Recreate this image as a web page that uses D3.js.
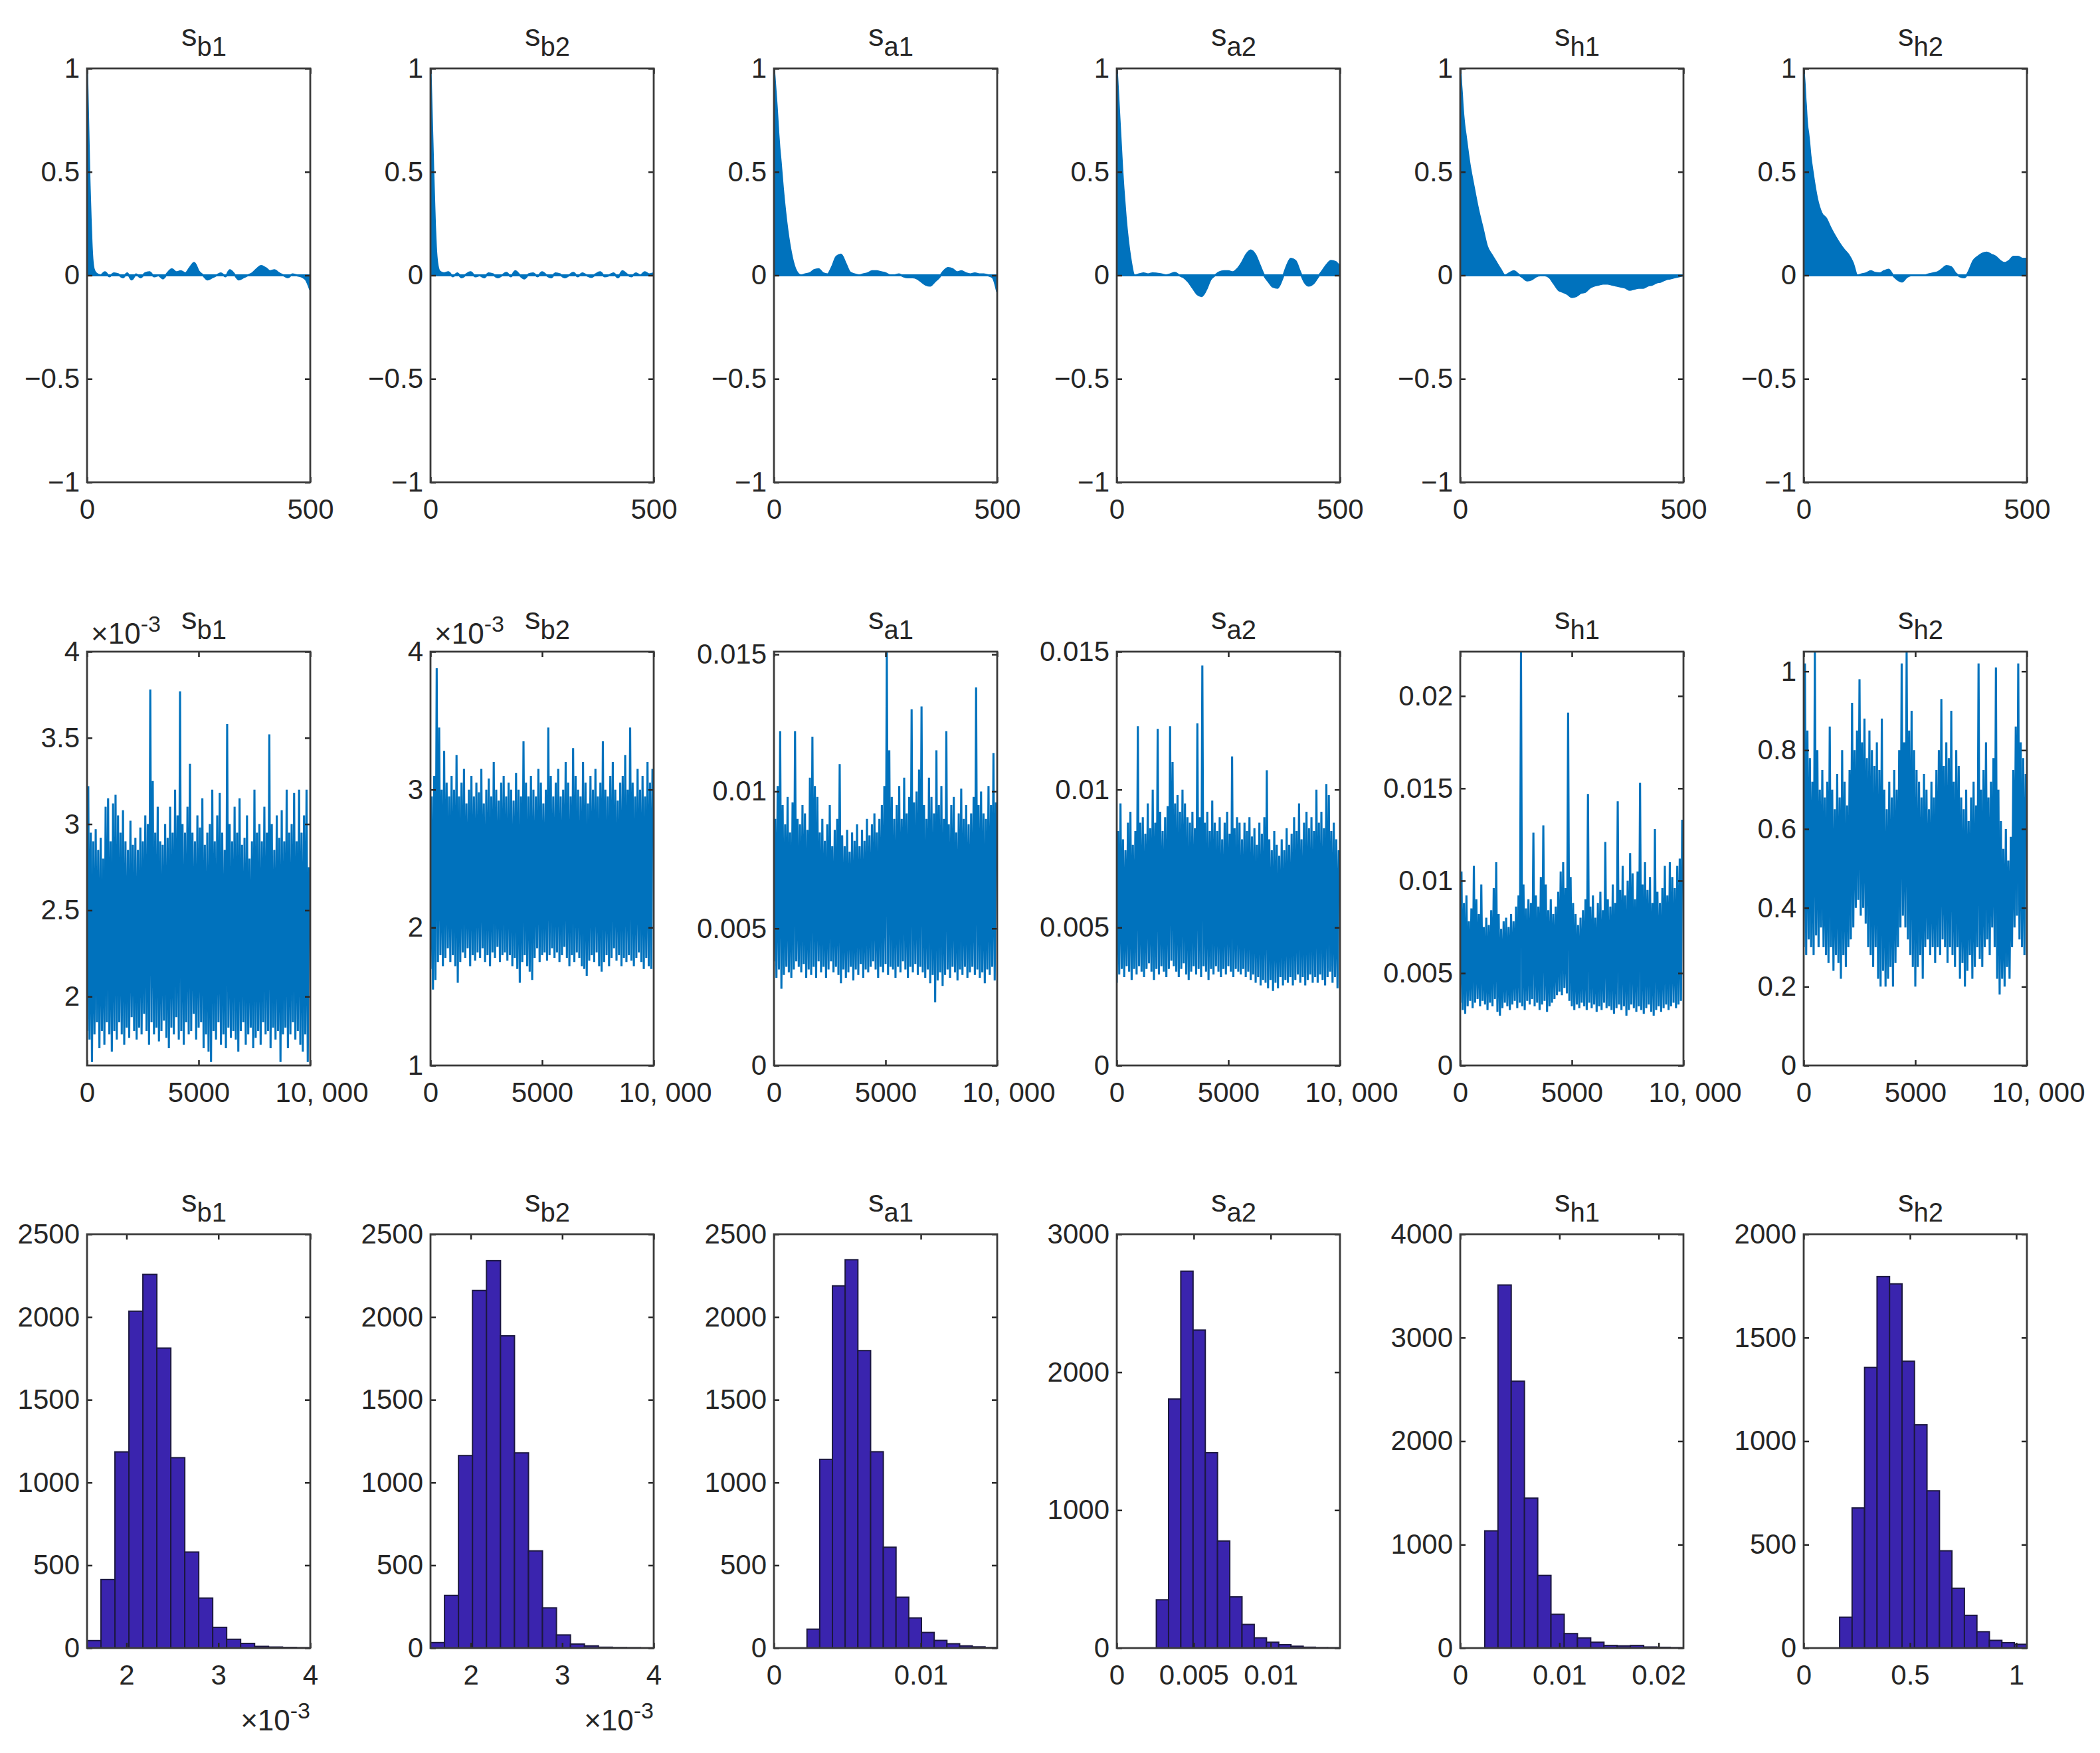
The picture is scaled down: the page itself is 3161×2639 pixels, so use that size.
<!DOCTYPE html>
<html><head><meta charset="utf-8">
<script src="https://cdn.jsdelivr.net/npm/d3@7"></script>
<style>
body{margin:0;background:#fff}
svg{display:block}
text{font-family:"Liberation Sans",Arial,sans-serif;fill:#262626}
</style>
</head><body>
<svg id="c" width="3161" height="2639"></svg>
<script>
// ---------------- DATA ----------------
const titleMain = ["s","s","s","s","s","s"];
const titleSub  = ["b1","b2","a1","a2","h1","h2"];

// Row 1: autocorrelation vs lag
const acfLags = [0,1,2,3,4,5,6,8,10,12,15,20,30,40,50,60,70,80,90,100,110,120,130,140,150,160,170,180,190,200,210,220,230,240,250,260,270,280,290,300,310,320,330,340,350,360,370,380,390,400,410,420,430,440,450,460,470,480,490,500];
const acf_sb1 = [1,0.9,0.8,0.7,0.6,0.5,0.42,0.28,0.16,0.08,0.03,0.01, 0.0,0.015,-0.005,0.01,0.005,-0.01,0.01,-0.02,0.005,-0.01,0.01,0.015,-0.005,0.0,-0.015,0.01,0.03,0.015,0.02,0.01,0.035,0.06,0.02,0.0,-0.02,-0.01,0.0,0.01,-0.005,0.025,0.005,-0.02,-0.01,0.0,0.01,0.03,0.045,0.035,0.02,0.025,0.01,0.0,-0.01,0.005,0.0,-0.005,-0.02,-0.07];
const acf_sb2 = [1,0.92,0.84,0.76,0.68,0.6,0.52,0.38,0.24,0.14,0.06,0.02, 0.01,0.015,-0.005,0.01,-0.01,0.005,0.015,-0.005,0.0,-0.01,0.01,0.005,-0.01,0.0,0.012,-0.005,0.02,0.0,-0.015,0.005,0.01,-0.005,0.015,0.0,-0.01,0.01,0.005,-0.01,0.0,0.012,-0.005,0.01,0.0,-0.008,0.005,0.015,-0.005,0.0,0.01,-0.01,0.02,0.005,-0.005,0.01,0.0,0.015,0.005,0.01];
const acf_sa1 = [1,0.97,0.94,0.91,0.88,0.85,0.82,0.75,0.68,0.62,0.55,0.42, 0.22,0.09,0.02,0.0,0.005,0.01,0.025,0.03,0.01,0.005,0.04,0.09,0.1,0.06,0.015,0.005,0.0,0.005,0.01,0.02,0.02,0.015,0.01,0.0,0.0,0.005,-0.005,-0.01,-0.01,-0.015,-0.03,-0.045,-0.05,-0.03,-0.01,0.02,0.035,0.03,0.015,0.02,0.01,0.005,0.01,0.005,0.005,0.0,-0.01,-0.08];
const acf_sa2 = [1,0.96,0.92,0.88,0.84,0.8,0.76,0.68,0.6,0.52,0.42,0.28, 0.09,0.0,0.005,0.01,0.005,0.01,0.008,0.005,0.0,0.005,0.012,0.0,-0.01,-0.03,-0.06,-0.09,-0.1,-0.07,-0.02,0.0,0.015,0.02,0.02,0.015,0.03,0.06,0.1,0.12,0.1,0.05,0.0,-0.03,-0.055,-0.06,-0.02,0.04,0.08,0.07,0.02,-0.03,-0.05,-0.04,-0.01,0.02,0.05,0.07,0.065,0.04];
const acf_sh1 = [1,0.97,0.93,0.9,0.87,0.83,0.8,0.75,0.71,0.68,0.63,0.55, 0.43,0.32,0.23,0.14,0.1,0.065,0.03,0.0,0.01,0.02,0.005,-0.01,-0.025,-0.02,-0.005,0.0,0.0,-0.01,-0.04,-0.07,-0.08,-0.09,-0.105,-0.1,-0.085,-0.08,-0.06,-0.05,-0.045,-0.04,-0.04,-0.045,-0.05,-0.055,-0.06,-0.07,-0.065,-0.06,-0.06,-0.05,-0.045,-0.035,-0.03,-0.02,-0.015,-0.01,-0.005,0.0];
const acf_sh2 = [1,0.96,0.93,0.89,0.85,0.82,0.78,0.72,0.69,0.65,0.58,0.5, 0.37,0.3,0.275,0.23,0.19,0.155,0.125,0.1,0.06,0.0,0.005,0.01,0.02,0.012,0.01,0.02,0.027,0.0,-0.02,-0.03,-0.01,0.0,0.0,0.0,0.0,0.005,0.01,0.015,0.03,0.045,0.04,0.01,-0.005,-0.01,0.02,0.07,0.09,0.105,0.11,0.1,0.09,0.07,0.06,0.07,0.09,0.09,0.08,0.08];
const acfSeries = [acf_sb1, acf_sb2, acf_sa1, acf_sa2, acf_sh1, acf_sh2];
const acfYTicks = [-1,-0.5,0,0.5,1];
const acfYLabels = ["\u22121","\u22120.5","0","0.5","1"];
const acfXTicks = [0,500];
const acfXLabels = ["0","500"];

// Row 2: MCMC traces (10,000 iterations), per-segment low / high readings
const traceLength = 10000;
const traceUnit = [1e-3,1e-3,1e-3,1e-3,1e-3,1];
const hi_sb1 = [3.22,2.95,2.9,2.97,2.85,2.92,2.8,3.1,3.15,2.9, 3.12,3.17,3.05,2.95,3.08,2.9,2.85,3.02,2.88,2.92, 2.85,2.98,2.9,3.05,3.0,3.78,3.25,2.95,3.1,2.9, 2.88,3.0,2.92,3.1,2.95,3.2,3.05,3.77,3.0,2.95, 3.1,3.35,2.95,2.9,3.05,2.98,3.15,2.88,2.95,3.0, 3.2,2.9,3.05,3.18,2.95,2.85,3.58,3.0,2.9,3.1, 2.95,3.15,2.88,2.92,3.05,2.8,2.9,3.2,2.95,3.0, 2.9,3.1,2.95,3.52,3.0,2.85,3.05,2.92,3.08,2.9, 3.2,2.95,3.0,3.18,2.9,3.2,2.95,3.05,3.2,2.75];
const lo_sb1 = [1.8,1.75,1.62,1.78,1.85,1.7,1.8,1.72,1.85,1.78, 1.68,1.8,1.75,1.85,1.78,1.72,1.82,1.76,1.88,1.8, 1.75,1.82,1.78,1.9,1.8,1.72,1.85,1.78,1.82,1.74, 1.8,1.86,1.76,1.7,1.82,1.78,1.88,1.75,1.8,1.72, 1.85,1.78,1.8,1.9,1.75,1.82,1.85,1.7,1.78,1.68, 1.62,1.8,1.75,1.85,1.72,1.78,1.7,1.82,1.76,1.8, 1.75,1.68,1.8,1.85,1.72,1.78,1.82,1.7,1.76,1.8, 1.72,1.85,1.78,1.8,1.7,1.82,1.75,1.8,1.62,1.78, 1.82,1.7,1.78,1.85,1.75,1.8,1.72,1.68,1.78,1.62];
const hi_sb2 = [2.95,3.1,3.88,3.45,3.0,3.28,3.05,2.95,3.1,3.0, 3.25,2.95,3.05,3.15,2.9,3.0,3.1,2.95,3.05,2.98, 3.15,2.9,3.0,3.08,2.95,3.2,3.0,2.92,3.05,3.1, 2.95,3.05,3.0,2.92,3.12,3.0,2.95,3.35,3.05,2.95, 3.1,3.0,2.95,3.15,3.05,2.9,3.0,3.45,3.1,2.95, 3.05,3.15,2.95,3.0,3.2,3.05,2.95,3.3,3.1,3.0, 2.95,3.2,3.05,2.9,3.1,3.0,3.15,2.95,3.05,3.35, 3.0,2.95,3.1,3.2,3.0,2.92,3.05,3.1,3.25,3.0, 3.45,3.05,2.95,3.15,3.0,3.1,2.95,3.2,3.05,3.15];
const lo_sb2 = [1.7,1.55,1.62,1.75,1.8,1.72,1.78,1.85,1.75,1.8, 1.72,1.6,1.75,1.82,1.78,1.85,1.72,1.8,1.76,1.82, 1.78,1.85,1.75,1.8,1.72,1.82,1.78,1.86,1.75,1.8, 1.82,1.76,1.8,1.72,1.78,1.7,1.6,1.75,1.8,1.72, 1.68,1.62,1.78,1.85,1.75,1.8,1.82,1.76,1.8,1.85, 1.78,1.82,1.75,1.8,1.86,1.78,1.72,1.8,1.75,1.82, 1.78,1.72,1.7,1.65,1.76,1.8,1.75,1.82,1.72,1.68, 1.75,1.8,1.72,1.78,1.85,1.76,1.8,1.72,1.78,1.75, 1.8,1.76,1.72,1.78,1.82,1.75,1.7,1.78,1.72,1.7];
const hi_sa1 = [9.0,10.2,12.2,9.5,8.8,9.8,8.5,9.6,12.2,9.0, 8.8,9.5,9.2,8.6,10.5,12.0,10.2,9.8,8.5,9.0, 8.2,8.8,9.5,8.0,8.6,9.0,11.0,8.4,8.0,8.6, 7.8,8.5,8.2,8.8,8.0,8.6,8.2,9.0,8.4,8.8, 9.2,8.5,9.0,9.5,10.2,15.2,11.5,9.8,9.0,9.5, 10.2,9.0,10.5,9.2,9.8,13.0,9.6,10.0,10.8,13.1, 9.5,9.0,10.5,9.8,9.2,11.5,9.5,10.2,9.0,12.2, 8.8,9.5,9.8,8.5,9.2,10.1,9.0,9.5,8.8,9.2, 9.8,13.8,9.5,10.0,9.2,9.0,10.2,9.5,11.4,9.6];
const lo_sa1 = [3.8,3.2,3.5,2.8,3.3,3.6,3.4,3.2,3.5,3.8, 3.6,3.4,3.7,3.2,3.5,3.3,3.6,3.2,3.8,3.4, 3.6,3.2,3.5,3.8,3.4,3.6,3.3,3.0,3.5,3.2, 3.4,3.6,3.1,3.5,3.3,3.7,3.2,3.5,3.4,3.6, 3.8,3.5,3.2,3.6,3.4,3.7,3.3,3.6,3.5,3.2, 3.6,3.4,3.8,3.5,3.2,3.6,3.4,3.7,3.3,3.6, 3.4,3.2,3.5,3.0,3.3,2.3,3.1,3.4,2.9,3.3, 3.5,3.2,3.6,3.4,3.1,3.5,3.3,3.6,3.2,3.4, 3.6,3.3,3.5,3.2,3.4,3.0,3.5,3.3,3.6,3.1];
const hi_sa2 = [8.5,9.5,8.2,7.8,8.8,9.2,8.0,8.5,12.3,8.8, 9.0,8.4,9.5,8.6,10.0,8.8,12.2,9.2,8.5,9.0, 9.4,12.3,11.0,9.5,9.8,9.2,10.0,9.5,9.0,8.8, 9.2,8.6,12.4,9.0,14.5,8.8,9.2,8.5,9.6,8.8, 8.5,9.0,8.2,8.8,9.2,8.4,11.2,8.6,9.0,8.8, 8.2,8.8,8.5,9.0,8.3,8.6,8.0,8.8,8.4,9.0, 10.7,8.2,7.8,8.5,8.0,7.6,8.2,7.8,8.6,8.0, 8.4,9.0,8.5,9.5,8.2,8.8,9.2,8.6,9.0,8.5, 10.0,8.8,9.2,8.6,10.2,9.8,8.5,8.8,8.2,7.8];
const lo_sa2 = [3.0,3.3,3.5,3.2,3.6,3.4,3.1,3.5,3.3,3.6, 3.4,3.2,3.5,3.7,3.4,3.1,3.5,3.3,3.6,3.4, 3.2,3.5,3.8,3.6,3.4,3.2,3.5,3.7,3.3,3.1, 3.4,3.6,3.3,3.5,3.2,3.6,3.4,3.1,3.5,3.3, 3.6,3.4,3.2,3.5,3.3,3.6,3.4,3.2,3.5,3.4, 3.3,3.5,3.2,3.4,3.1,3.3,3.0,3.2,2.9,3.1, 3.0,2.8,3.1,2.7,3.0,2.8,3.2,2.9,3.1,3.0, 3.2,2.9,3.1,3.3,3.0,3.2,2.9,3.1,3.3,3.0, 3.2,3.0,3.3,3.1,2.9,3.2,3.4,3.0,3.2,2.8];
const hi_sh1 = [10.5,8.8,9.2,7.8,8.5,10.8,9.0,8.2,9.8,7.5, 8.0,7.6,8.4,9.6,11.0,8.2,7.4,7.8,8.0,7.5, 8.2,7.8,8.6,9.2,22.4,9.8,8.5,9.0,8.8,12.6, 9.2,8.6,10.2,13.0,9.8,8.4,9.0,8.2,8.6,9.4, 10.5,11.0,9.6,19.1,10.2,8.8,8.2,7.6,8.0,8.4, 9.0,14.7,8.6,9.2,8.0,8.8,9.4,8.4,12.1,9.0, 8.6,9.8,8.8,14.3,9.5,10.8,9.2,10.0,11.5,10.4, 9.0,10.5,15.3,9.8,11.0,9.5,10.2,8.8,12.8,9.4, 8.8,9.6,10.8,9.2,11.0,10.2,9.6,10.8,11.2,13.3];
const lo_sh1 = [3.4,3.0,2.8,3.2,3.5,3.1,3.4,3.6,3.2,3.5, 3.3,3.0,3.4,3.2,3.6,2.9,2.7,3.1,3.4,3.2, 3.0,3.3,3.5,3.1,3.4,3.2,3.0,3.5,3.3,3.6, 3.2,3.4,3.0,3.3,3.5,2.9,3.2,3.4,3.6,3.8, 4.0,3.8,4.2,3.9,3.5,3.2,3.0,3.3,3.1,3.4, 3.2,3.0,3.4,3.1,3.3,2.9,3.2,3.0,3.4,3.1, 3.2,3.0,2.8,3.1,3.3,3.0,3.2,2.7,3.0,3.3, 3.1,2.9,3.2,3.0,2.8,3.1,3.3,2.9,2.7,3.0, 3.2,2.9,3.1,3.3,3.0,3.2,3.4,3.1,3.3,3.5];
const hi_sh2 = [1.02,0.85,0.78,0.72,1.05,0.8,0.7,0.75,0.68,0.72, 0.86,0.7,0.65,0.74,0.68,0.8,0.72,0.66,0.75,0.92, 0.8,0.85,0.98,0.82,0.88,0.78,0.85,0.8,0.76,0.82, 0.75,0.88,0.7,0.65,0.72,0.68,0.75,0.7,0.8,1.02, 0.82,1.05,0.85,0.9,0.8,0.75,0.72,0.68,0.74,0.7, 0.65,0.72,0.68,0.75,0.8,0.93,0.76,0.82,0.78,0.9, 0.72,0.8,0.76,0.68,0.65,0.7,0.62,0.68,0.72,0.66, 1.02,0.7,0.75,0.82,0.68,0.72,0.78,1.01,0.7,0.62, 0.55,0.6,0.52,0.58,0.75,0.86,1.02,0.82,0.78,0.74];
const lo_sh2 = [0.3,0.28,0.32,0.3,0.28,0.33,0.3,0.35,0.3,0.28, 0.26,0.3,0.24,0.28,0.26,0.22,0.28,0.25,0.3,0.32, 0.35,0.4,0.42,0.38,0.4,0.36,0.3,0.28,0.25,0.3, 0.22,0.2,0.24,0.2,0.22,0.25,0.2,0.26,0.3,0.35, 0.38,0.35,0.32,0.28,0.25,0.2,0.25,0.28,0.22,0.3, 0.32,0.28,0.3,0.26,0.3,0.28,0.32,0.3,0.26,0.3, 0.28,0.25,0.3,0.22,0.26,0.2,0.24,0.28,0.22,0.25, 0.3,0.27,0.25,0.3,0.32,0.28,0.35,0.3,0.22,0.18, 0.22,0.2,0.25,0.22,0.3,0.35,0.38,0.32,0.3,0.28];
const traceHi = [hi_sb1, hi_sb2, hi_sa1, hi_sa2, hi_sh1, hi_sh2];
const traceLo = [lo_sb1, lo_sb2, lo_sa1, lo_sa2, lo_sh1, lo_sh2];
const traceYDomain = [[1.6e-3,4e-3],[1e-3,4e-3],[0,0.0151],[0,0.015],[0,0.0224],[0,1.05]];
const traceYTicks = [[2e-3,2.5e-3,3e-3,3.5e-3,4e-3],[1e-3,2e-3,3e-3,4e-3],[0,0.005,0.01,0.015],[0,0.005,0.01,0.015],[0,0.005,0.01,0.015,0.02],[0,0.2,0.4,0.6,0.8,1]];
const traceYLabels = [["2","2.5","3","3.5","4"],["1","2","3","4"],["0","0.005","0.01","0.015"],["0","0.005","0.01","0.015"],["0","0.005","0.01","0.015","0.02"],["0","0.2","0.4","0.6","0.8","1"]];
const traceXTicks = [0,5000,10000];
const traceXLabels = ["0","5000","10, 000"];

// Row 3: histograms
const histUnit = [1e-3,1e-3,1e-3,1e-3,1e-3,1];
const histStart = [1.57,1.56,2.25,2.57,2.47,0.169];
const histWidth = [0.152,0.153,0.866,0.795,1.335,0.0587];
const hist_sb1 = [45,414,1185,2035,2257,1812,1150,580,302,125,53,28,10,6,4,2];
const hist_sb2 = [33,318,1163,2160,2340,1886,1179,587,243,79,24,13,5,3,2,1];
const hist_sa1 = [114,1140,2188,2346,1797,1186,609,307,182,94,46,26,13,7,3];
const hist_sa2 = [350,1805,2732,2305,1416,776,371,171,74,42,24,13,6,3,2];
const hist_sh1 = [1133,3509,2579,1449,702,326,140,98,56,25,21,25,10,7,4];
const hist_sh2 = [149,677,1356,1795,1760,1386,1079,760,470,289,158,79,37,26,18];
const histCounts = [hist_sb1, hist_sb2, hist_sa1, hist_sa2, hist_sh1, hist_sh2];
const histXDomain = [[1.57e-3,4e-3],[1.56e-3,4e-3],[0,0.0152],[0,0.0145],[0,0.0225],[0,1.05]];
const histXTicks = [[2e-3,3e-3,4e-3],[2e-3,3e-3,4e-3],[0,0.01],[0,0.005,0.01],[0,0.01,0.02],[0,0.5,1]];
const histXLabels = [["2","3","4"],["2","3","4"],["0","0.01"],["0","0.005","0.01"],["0","0.01","0.02"],["0","0.5","1"]];
const histYDomain = [[0,2500],[0,2500],[0,2500],[0,3000],[0,4000],[0,2000]];
const histYTicks = [[0,500,1000,1500,2000,2500],[0,500,1000,1500,2000,2500],[0,500,1000,1500,2000,2500],[0,1000,2000,3000],[0,1000,2000,3000,4000],[0,500,1000,1500,2000]];

// ---------------- LAYOUT / STYLE ----------------
const W = 336, H = 623;
const colX = [131,648,1165,1681,2198,2715];
const rowY = [103,981,1858];
const BLUE = "#0072BD", HISTFILL = "#3A24AE", HISTEDGE = "#1c1840", AXC = "#262626";
const FS = 42, TL = 8;

const svg = d3.select("#c");
const defs = svg.append("defs");

function axes(g, x, y, xT, xL, yT, yL, xDx) {
  const fx = (d,i) => xL[i], fy = (d,i) => yL[i];
  const gb = g.append("g").attr("transform",`translate(0,${H})`)
    .call(d3.axisBottom(x).tickValues(xT).tickFormat(fx).tickSize(-TL).tickSizeOuter(0).tickPadding(25));
  const gt = g.append("g").call(d3.axisTop(x).tickValues(xT).tickFormat("").tickSize(-TL).tickSizeOuter(0));
  const gl = g.append("g").call(d3.axisLeft(y).tickValues(yT).tickFormat(fy).tickSize(-TL).tickSizeOuter(0).tickPadding(11));
  const gr = g.append("g").attr("transform",`translate(${W},0)`)
    .call(d3.axisRight(y).tickValues(yT).tickFormat("").tickSize(-TL).tickSizeOuter(0));
  [gb,gt,gl,gr].forEach(a => {
    a.select(".domain").remove();
    a.selectAll(".tick line").attr("stroke",AXC).attr("stroke-width",2.5);
    a.selectAll("text").attr("font-size",FS).attr("fill",AXC)
      .attr("font-family",'"Liberation Sans",Arial,sans-serif');
  });
  if (xDx) gb.selectAll(".tick text").attr("dx",(d,i)=> i===xT.length-1 ? xDx : 0);
  g.append("rect").attr("x",0).attr("y",0).attr("width",W).attr("height",H)
    .attr("fill","none").attr("stroke","#3a3a3a").attr("stroke-width",2.8);
}

function title(g, k) {
  const t = g.append("text").attr("x", W/2 + 8).attr("y", -34)
    .attr("text-anchor","middle").attr("font-size",47);
  t.append("tspan").text(titleMain[k]);
  t.append("tspan").attr("font-size",40).attr("dy",15).text(titleSub[k]);
}

function expLabel(g, xPos, yPos, anchor) {
  const e = g.append("text").attr("x",xPos).attr("y",yPos).attr("text-anchor",anchor).attr("font-size",44);
  e.append("tspan").text("\u00d710");
  e.append("tspan").attr("font-size",34).attr("dy",-18).text("-3");
}

function clip(id) {
  defs.append("clipPath").attr("id",id).append("rect").attr("width",W).attr("height",H);
  return `url(#${id})`;
}

for (let k = 0; k < 6; k++) {
  // ---- Row 1: ACF ----
  {
    const g = svg.append("g").attr("transform",`translate(${colX[k]},${rowY[0]})`);
    const x = d3.scaleLinear().domain([0,500]).range([0,W]);
    const y = d3.scaleLinear().domain([-1,1]).range([H,0]);
    const data = acfLags.map((l,i) => [l, acfSeries[k][i]]);
    const pg = g.append("g").attr("clip-path", clip("c1_"+k));
    pg.append("path").datum(data)
      .attr("d", d3.area().x(d=>x(d[0])).y0(y(0)).y1(d=>y(d[1])).curve(d3.curveMonotoneX))
      .attr("fill",BLUE);
    pg.append("path").datum(data)
      .attr("d", d3.line().x(d=>x(d[0])).y(d=>y(d[1])).curve(d3.curveMonotoneX))
      .attr("fill","none").attr("stroke",BLUE).attr("stroke-width",3);
    pg.append("line").attr("x1",x(0)).attr("x2",x(500)).attr("y1",y(0)).attr("y2",y(0))
      .attr("stroke",BLUE).attr("stroke-width",3);
    axes(g, x, y, acfXTicks, acfXLabels, acfYTicks, acfYLabels);
    title(g, k);
  }
  // ---- Row 2: trace ----
  {
    const g = svg.append("g").attr("transform",`translate(${colX[k]},${rowY[1]})`);
    const x = d3.scaleLinear().domain([0,traceLength]).range([0,W]);
    const y = d3.scaleLinear().domain(traceYDomain[k]).range([H,0]);
    const hi = traceHi[k], lo = traceLo[k], u = traceUnit[k];
    const step = traceLength / hi.length;
    const pts = [];
    for (let i = 0; i < hi.length; i++) {
      pts.push([i*step, lo[i]*u]);
      pts.push([(i+0.5)*step, hi[i]*u]);
    }
    const pg = g.append("g").attr("clip-path", clip("c2_"+k));
    pg.append("path").datum(pts)
      .attr("d", d3.line().x(d=>x(d[0])).y(d=>y(d[1])))
      .attr("fill","none").attr("stroke",BLUE).attr("stroke-width",3.1).attr("stroke-linejoin","bevel");
    axes(g, x, y, traceXTicks, traceXLabels, traceYTicks[k], traceYLabels[k], 17);
    title(g, k);
    if (k < 2) expLabel(g, 6, -12, "start");
  }
  // ---- Row 3: histogram ----
  {
    const g = svg.append("g").attr("transform",`translate(${colX[k]},${rowY[2]})`);
    const x = d3.scaleLinear().domain(histXDomain[k]).range([0,W]);
    const y = d3.scaleLinear().domain(histYDomain[k]).range([H,0]);
    const u = histUnit[k], s0 = histStart[k]*u, bw = histWidth[k]*u;
    const bins = histCounts[k].map((c,i) => ({x0: s0 + i*bw, x1: s0 + (i+1)*bw, c}));
    const pg = g.append("g").attr("clip-path", clip("c3_"+k));
    pg.selectAll("rect").data(bins).join("rect")
      .attr("x", d=>x(d.x0)).attr("width", d=>x(d.x1)-x(d.x0))
      .attr("y", d=>y(d.c)).attr("height", d=>y(0)-y(d.c))
      .attr("fill",HISTFILL).attr("stroke",HISTEDGE).attr("stroke-width",2);
    axes(g, x, y, histXTicks[k], histXLabels[k], histYTicks[k], histYTicks[k].map(String));
    title(g, k);
    if (k < 2) expLabel(g, W, H+124, "end");
  }
}
</script>
</body></html>
